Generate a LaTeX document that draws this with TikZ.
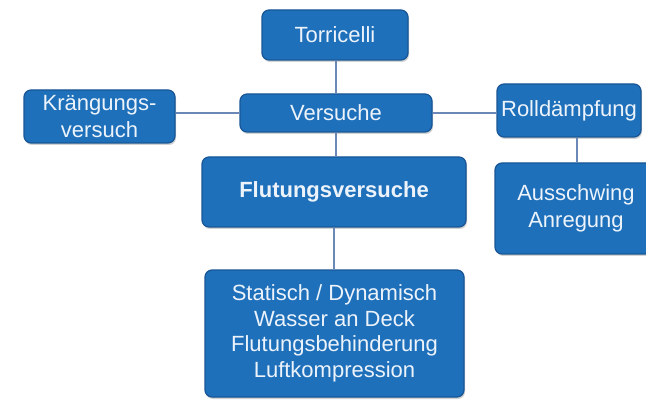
\documentclass[tikz,border=0pt]{standalone}
\usepackage{fontspec}
\setmainfont{Liberation Sans}
\usetikzlibrary{shadows}
\definecolor{boxfill}{RGB}{31,112,186}
\definecolor{boxline}{RGB}{24,86,150}
\definecolor{boxtext}{RGB}{236,243,251}
\definecolor{linkc}{RGB}{108,136,182}
\begin{document}
\begin{tikzpicture}[x=1pt,y=-1pt,
  box/.style={draw=boxline, line width=1.2pt, fill=boxfill, rounded corners=7pt,
    text=boxtext, align=center, inner sep=0pt,
    font=\fontsize{22}{27}\selectfont,
    drop shadow={opacity=0.35, shadow xshift=1pt, shadow yshift=-2pt}},
  link/.style={draw=linkc, line width=1.8pt}]
\clip (0,0) rectangle (646,401);
\fill[white] (0,0) rectangle (646,401);
\node[box, minimum width=146pt, minimum height=50pt] (tor) at (335,35) {Torricelli};
\node[box, minimum width=192pt, minimum height=38pt] (ver) at (336,113) {Versuche};
\node[box, minimum width=151pt, minimum height=53pt] (kr) at (99.5,116.5) {Krängungs-\\versuch};
\node[box, minimum width=144pt, minimum height=53pt] (roll) at (569,110.5) {Rolldämpfung};
\node[box, minimum width=170pt, minimum height=91pt, text width=165pt] (aus) at (580,208.5) {\hspace*{-8pt}Ausschwing\\\hspace*{-8pt}Anregung};
\node[box, minimum width=264pt, minimum height=70pt, font=\fontsize{22}{27}\selectfont\bfseries] (flut) at (334,192) {Flutungsversuche};
\node[box, minimum width=259pt, minimum height=127pt, font=\fontsize{22}{25.5}\selectfont] (bot) at (334.5,333.5) {Statisch / Dynamisch\\Wasser an Deck\\Flutungsbehinderung\\Luftkompression};
\draw[link] (ver.north |- tor.south) -- (ver.north);
\draw[link] (ver.south) -- (ver.south |- flut.north);
\draw[link] (flut.south) -- (flut.south |- bot.north);
\draw[link] (ver.west -| kr.east) -- (ver.west);
\draw[link] (ver.east) -- (ver.east -| roll.west);
\draw[link] ([xshift=8pt]roll.south) -- ([xshift=8pt]roll.south |- aus.north);
\end{tikzpicture}
\end{document}
